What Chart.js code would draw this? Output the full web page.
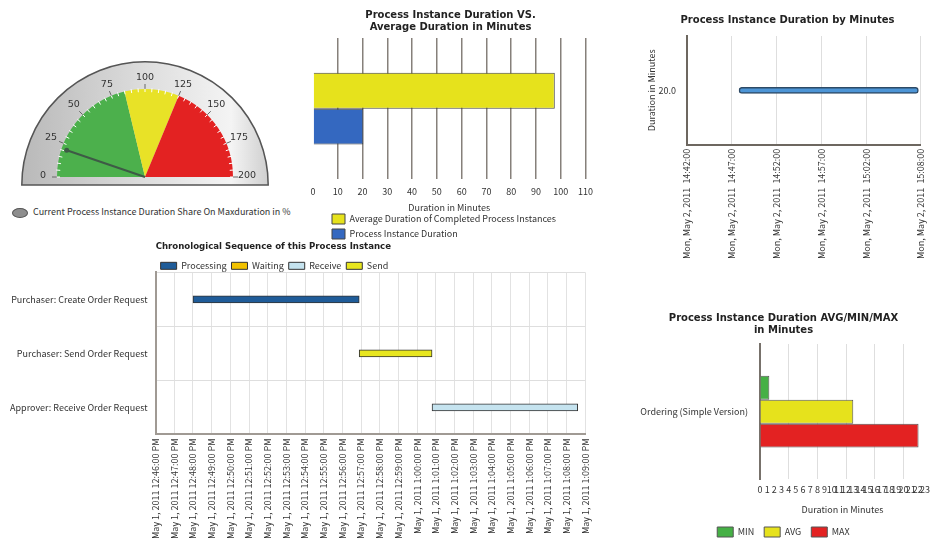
<!DOCTYPE html>
<html>
<head>
<meta charset="utf-8">
<script src="https://cdn.jsdelivr.net/npm/chart.js@4.4.1/dist/chart.umd.min.js"></script>
<style>
  html, body { margin:0; padding:0; background:#fff; width:935px; height:541px; overflow:hidden; position:relative; }
  canvas { position:absolute; }
  #gaugeKey { position:absolute; left:12px; top:205px; font-size:9px; font-family:"Noto Sans CJK JP", "DejaVu Sans", sans-serif; color:#333; white-space:nowrap; }
  #gaugeKey .dot { display:inline-block; width:14px; height:8px; border-radius:50%; background:#8e8e8e; border:1px solid #555; vertical-align:middle; margin-right:5px; }
</style>
</head>
<body>
<canvas id="gauge" width="295" height="140" style="left:0;top:55px"></canvas>
<div id="gaugeKey"><span class="dot"></span>Current Process Instance Duration Share On Maxduration in %</div>
<canvas id="compare" width="300" height="251" style="left:300px;top:0"></canvas>
<canvas id="run" width="295" height="263" style="left:640px;top:0"></canvas>
<canvas id="gantt" width="600" height="305" style="left:0;top:238px"></canvas>
<canvas id="stats" width="295" height="241" style="left:640px;top:300px"></canvas>
<script>
// gauge
const gaugeBands = [85, 40, 75];
const gaugeColors = ['#4cb04c', '#e8e227', '#e32222'];
const gaugeTicks = [0, 25, 50, 75, 100, 125, 150, 175, 200];
const gaugeMax = 200;
const needleValue = 21;

// duration vs average
const compareSeries = ['Average Duration of Completed Process Instances', 'Process Instance Duration'];
const compareValues = [97.6, 20.3];
const compareColors = ['#e6e21c', '#3468c0'];

// duration by minutes
const runLabels = ['20.0'];
const runSpan = [887.8, 907.8];
const runTickValues = [882, 887, 892, 897, 902, 908];
const runTickLabels = [
  'Mon, May 2, 2011  14:42:00',
  'Mon, May 2, 2011  14:47:00',
  'Mon, May 2, 2011  14:52:00',
  'Mon, May 2, 2011  14:57:00',
  'Mon, May 2, 2011  15:02:00',
  'Mon, May 2, 2011  15:08:00'
];

// chronological sequence
const stepLabels = ['Purchaser: Create Order Request', 'Purchaser: Send Order Request', 'Approver: Receive Order Request'];
const processingSpans = [[48, 56.9], null, null];
const waitingSpans = [null, null, null];
const receiveSpans = [null, null, [60.8, 68.6]];
const sendSpans = [null, [56.9, 60.8], null];
const minuteTicks = [
  'May 1, 2011 12:46:00 PM', 'May 1, 2011 12:47:00 PM', 'May 1, 2011 12:48:00 PM', 'May 1, 2011 12:49:00 PM',
  'May 1, 2011 12:50:00 PM', 'May 1, 2011 12:51:00 PM', 'May 1, 2011 12:52:00 PM', 'May 1, 2011 12:53:00 PM',
  'May 1, 2011 12:54:00 PM', 'May 1, 2011 12:55:00 PM', 'May 1, 2011 12:56:00 PM', 'May 1, 2011 12:57:00 PM',
  'May 1, 2011 12:58:00 PM', 'May 1, 2011 12:59:00 PM', 'May 1, 2011 1:00:00 PM', 'May 1, 2011 1:01:00 PM',
  'May 1, 2011 1:02:00 PM', 'May 1, 2011 1:03:00 PM', 'May 1, 2011 1:04:00 PM', 'May 1, 2011 1:05:00 PM',
  'May 1, 2011 1:06:00 PM', 'May 1, 2011 1:07:00 PM', 'May 1, 2011 1:08:00 PM', 'May 1, 2011 1:09:00 PM'
];

// avg / min / max
const statCategories = ['Ordering (Simple Version)'];
const minDurations = [1.3];
const avgDurations = [13.0];
const maxDurations = [22.1];

Chart.defaults.font.family = '"Noto Sans CJK JP", "DejaVu Sans", sans-serif';
Chart.defaults.font.size = 9;
Chart.defaults.color = '#333';
Chart.defaults.animation = false;
Chart.defaults.plugins.tooltip.enabled = false;

const titleFont = { family: '"DejaVu Sans", sans-serif', size: 10, weight: 'bold' };

// tighten the legend box / nudge it sideways
const legendAdjust = (trim, shift) => ({
  id: 'legendAdjust',
  beforeInit(chart) {
    const fit = chart.legend.fit;
    chart.legend.fit = function () { fit.call(this); this.height -= trim; };
  },
  afterLayout(chart) {
    chart.legend.left += shift;
  }
});

const dialPlugin = {
  id: 'dial',
  beforeDatasetsDraw(chart) {
    const arc = chart.getDatasetMeta(0).data[0];
    const x = arc.x, y = arc.y, r = arc.outerRadius;
    const R = r * 1.4, cy = y + 8;
    const ctx = chart.ctx;
    ctx.save();
    const g = ctx.createLinearGradient(x - R, 0, x + R, 0);
    g.addColorStop(0, '#b9b9b9');
    g.addColorStop(0.5, '#dddddd');
    g.addColorStop(0.85, '#f4f4f4');
    g.addColorStop(1, '#cfcfcf');
    ctx.beginPath();
    ctx.arc(x, cy, R, Math.PI, 2 * Math.PI);
    ctx.closePath();
    ctx.fillStyle = g;
    ctx.fill();
    ctx.lineWidth = 1.5;
    ctx.strokeStyle = '#555';
    ctx.stroke();
    ctx.restore();
  },
  afterDatasetsDraw(chart) {
    const arc = chart.getDatasetMeta(0).data[0];
    const x = arc.x, y = arc.y, r = arc.outerRadius;
    const ctx = chart.ctx;
    ctx.save();
    // minor ticks
    ctx.strokeStyle = '#fff';
    ctx.lineWidth = 1;
    for (let v = 0; v <= gaugeMax; v += 5) {
      const a = Math.PI + v / gaugeMax * Math.PI;
      ctx.beginPath();
      ctx.moveTo(x + (r - 3) * Math.cos(a), y + (r - 3) * Math.sin(a));
      ctx.lineTo(x + (r + 1) * Math.cos(a), y + (r + 1) * Math.sin(a));
      ctx.stroke();
    }
    // major ticks + labels
    ctx.font = '9.5px "DejaVu Sans", sans-serif';
    ctx.fillStyle = '#333';
    ctx.textAlign = 'center';
    ctx.textBaseline = 'middle';
    gaugeTicks.forEach(v => {
      const a = Math.PI + v / gaugeMax * Math.PI;
      const c = Math.cos(a), s = Math.sin(a);
      ctx.strokeStyle = '#666';
      ctx.beginPath();
      ctx.moveTo(x + r * c, y + r * s);
      ctx.lineTo(x + (r + 5) * c, y + (r + 5) * s);
      ctx.stroke();
      const rl = r + 10 + 4 * Math.abs(c);
      ctx.fillText(String(v), x + rl * c, y + rl * s - 1);
    });
    // needle
    const na = Math.PI + needleValue / gaugeMax * Math.PI;
    const tipX = x + r * 0.94 * Math.cos(na), tipY = y + r * 0.94 * Math.sin(na);
    ctx.strokeStyle = '#3e5a46';
    ctx.lineWidth = 2;
    ctx.beginPath();
    ctx.moveTo(x, y);
    ctx.lineTo(tipX, tipY);
    ctx.stroke();
    ctx.fillStyle = '#3e5a46';
    ctx.beginPath();
    ctx.arc(tipX, tipY, 2.5, 0, 2 * Math.PI);
    ctx.fill();
    ctx.restore();
  }
};

new Chart(document.getElementById('gauge'), {
  type: 'doughnut',
  data: { datasets: [{ data: gaugeBands, backgroundColor: gaugeColors, borderWidth: 0 }] },
  options: {
    responsive: false,
    rotation: -90,
    circumference: 180,
    cutout: 0,
    layout: { padding: { left: 57, right: 62, top: 34, bottom: 18 } },
    plugins: { legend: { display: false } }
  },
  plugins: [dialPlugin]
});

new Chart(document.getElementById('compare'), {
  type: 'bar',
  data: {
    labels: [''],
    datasets: compareSeries.map((name, i) => ({
      label: name,
      data: [compareValues[i]],
      backgroundColor: compareColors[i],
      borderColor: '#444',
      borderWidth: 1,
      categoryPercentage: 0.507,
      barPercentage: 1
    }))
  },
  options: {
    responsive: false,
    indexAxis: 'y',
    layout: { padding: { left: 13, right: 12, top: 2, bottom: 2 } },
    scales: {
      x: {
        min: 0, max: 110,
        afterFit: s => { s.height -= 3; },
        ticks: { stepSize: 10, padding: 7 },
        grid: { color: c => (c.tick && c.tick.value === 0) ? 'rgba(0,0,0,0)' : '#86807a', lineWidth: 1.5, drawTicks: false },
        border: { display: false },
        title: { display: true, text: 'Duration in Minutes', padding: { top: 1, bottom: -4 } }
      },
      y: { display: false }
    },
    plugins: {
      title: { display: true, text: ['Process Instance Duration VS.', 'Average Duration in Minutes'], font: titleFont, color: '#222', padding: { top: 7, bottom: 5 } },
      legend: { position: 'bottom', align: 'start', fullSize: false, labels: { boxWidth: 13, boxHeight: 10, padding: 5 } }
    }
  },
  plugins: [legendAdjust(0, 14)]
});

new Chart(document.getElementById('run'), {
  type: 'bar',
  data: {
    labels: runLabels,
    datasets: [{
      label: 'Duration',
      data: [runSpan],
      backgroundColor: '#4d95d6',
      borderColor: '#2d4a66',
      borderWidth: 1.5,
      borderRadius: 3,
      borderSkipped: false,
      barThickness: 6
    }]
  },
  options: {
    responsive: false,
    indexAxis: 'y',
    layout: { padding: { left: 0, right: 0, top: 10, bottom: 0 } },
    scales: {
      x: {
        type: 'linear', min: 882, max: 908,
        afterBuildTicks: s => { s.ticks = runTickValues.map(v => ({ value: v })); },
        ticks: { autoSkip: false, minRotation: 90, maxRotation: 90, callback: (v, i) => runTickLabels[i], padding: 4 },
        grid: { color: '#dedede', drawTicks: false },
        border: { color: '#6d6760', width: 2 }
      },
      y: {
        afterFit: s => { s.width = 47; },
        ticks: { padding: 3 },
        grid: { display: false },
        border: { color: '#6d6760', width: 2 },
        title: { display: true, text: 'Duration in Minutes', padding: { top: 6, bottom: 0 } }
      }
    },
    plugins: {
      title: { display: true, text: 'Process Instance Duration by Minutes', font: titleFont, color: '#222', padding: { top: 4, bottom: 10 } },
      legend: { display: false }
    }
  }
});

const ganttSet = (label, data, color) => ({
  label, data,
  backgroundColor: color,
  borderColor: '#333',
  borderWidth: 1,
  borderSkipped: false,
  barThickness: 7,
  grouped: false
});

new Chart(document.getElementById('gantt'), {
  type: 'bar',
  data: {
    labels: stepLabels,
    datasets: [
      ganttSet('Processing', processingSpans, '#1f5c99'),
      ganttSet('Waiting', waitingSpans, '#f2c200'),
      ganttSet('Receive', receiveSpans, '#c5e3ef'),
      ganttSet('Send', sendSpans, '#e8e61e')
    ]
  },
  options: {
    responsive: false,
    indexAxis: 'y',
    layout: { padding: { left: 2, right: 10, top: 2, bottom: 0 } },
    scales: {
      x: {
        type: 'linear', min: 46, max: 69,
        ticks: { stepSize: 1, autoSkip: false, minRotation: 90, maxRotation: 90, callback: (v, i) => minuteTicks[i], padding: 4 },
        grid: { color: '#e2e2e2', drawTicks: false },
        border: { color: '#a09a94', width: 2 }
      },
      y: {
        ticks: { padding: 8 },
        grid: { color: '#dedede', drawTicks: false },
        border: { color: '#a09a94', width: 2 }
      }
    },
    plugins: {
      title: { display: true, text: 'Chronological Sequence of this Process Instance', align: 'start', fullSize: false, font: { family: '"DejaVu Sans", sans-serif', size: 8.6, weight: 'bold' }, color: '#222', padding: { top: 2, bottom: 4 } },
      legend: { position: 'top', align: 'start', fullSize: false, labels: { boxWidth: 16, boxHeight: 7, padding: 5 } }
    }
  },
  plugins: [legendAdjust(8, 0)]
});

const statSet = (label, data, color) => ({
  label, data,
  backgroundColor: color,
  borderColor: '#555',
  borderWidth: 1,
  categoryPercentage: 0.53,
  barPercentage: 1
});

new Chart(document.getElementById('stats'), {
  type: 'bar',
  data: {
    labels: statCategories,
    datasets: [
      statSet('MIN', minDurations, '#45b045'),
      statSet('AVG', avgDurations, '#e6e21c'),
      statSet('MAX', maxDurations, '#e32222')
    ]
  },
  options: {
    responsive: false,
    indexAxis: 'y',
    layout: { padding: { left: 0, right: 8, top: 8, bottom: 0 } },
    scales: {
      x: {
        min: 0, max: 23,
        ticks: { stepSize: 1, autoSkip: false, maxRotation: 0, padding: 5 },
        grid: { color: c => (c.tick && c.tick.value > 0 && c.tick.value % 4 === 0) ? '#dedede' : 'rgba(0,0,0,0)', drawTicks: false },
        border: { display: false },
        title: { display: true, text: 'Duration in Minutes', padding: { top: 4, bottom: 2 } }
      },
      y: {
        afterFit: s => { s.width = 120; },
        grid: { display: false },
        ticks: { padding: 4 },
        border: { color: '#77716b', width: 2 }
      }
    },
    plugins: {
      title: { display: true, text: ['Process Instance Duration AVG/MIN/MAX', 'in Minutes'], font: titleFont, color: '#222', padding: { top: 4, bottom: 8 } },
      legend: { position: 'bottom', labels: { boxWidth: 16, boxHeight: 10, padding: 10 } }
    }
  },
  plugins: [legendAdjust(6, 0)]
});
</script>
</body>
</html>
